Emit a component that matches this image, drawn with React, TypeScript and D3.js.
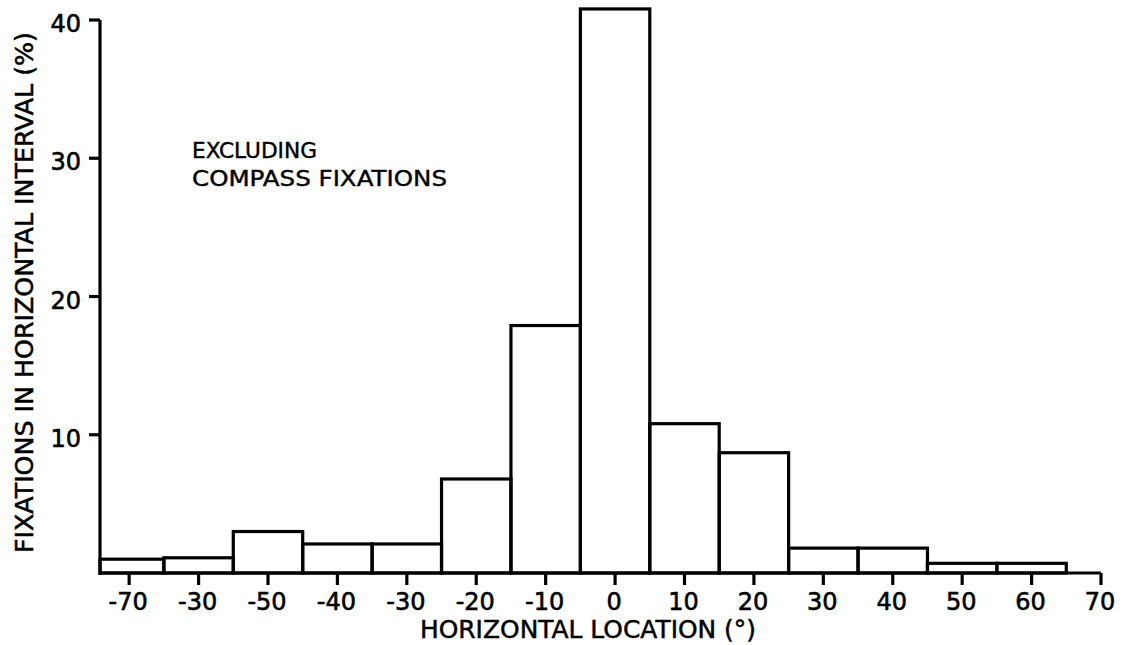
import React from "react";
import * as d3 from "d3";

const binCenters = [-70, -60, -50, -40, -30, -20, -10, 0, 10, 20, 30, 40, 50, 60];
const binValues = [1.0, 1.1, 3.0, 2.1, 2.1, 6.8, 17.9, 40.8, 10.8, 8.7, 1.8, 1.8, 0.7, 0.7];
const xTickValues = [-70, -60, -50, -40, -30, -20, -10, 0, 10, 20, 30, 40, 50, 60, 70];
const xTickLabels = ["-70", "-30", "-50", "-40", "-30", "-20", "-10", "0", "10", "20", "30", "40", "50", "60", "70"];
const yTickValues = [10, 20, 30, 40];
const binWidth = 10;

const W = 1123;
const H = 645;
const FONT = "'DejaVu Sans', sans-serif";

export default function App() {
  const x = d3.scaleLinear().domain([-74.2, 70]).range([100, 1101]);
  const y = d3.scaleLinear().domain([0, 40]).range([573, 20]);
  const xMin = x.domain()[0];

  return (
    <svg
      width={W}
      height={H}
      viewBox={`0 0 ${W} ${H}`}
      style={{ position: "absolute", left: 0, top: 0, background: "#fff" }}
    >
      <rect width={W} height={H} fill="#fff" />
      {/* bars */}
      <g fill="none" stroke="#000" strokeWidth={3.2} strokeLinejoin="miter">
        {binCenters.map((c, i) => {
          const x0 = x(Math.max(c - binWidth / 2, xMin));
          const x1 = x(c + binWidth / 2);
          const yt = y(binValues[i]);
          return <rect key={c} x={x0} y={yt} width={x1 - x0} height={y(0) - yt} />;
        })}
      </g>
      {/* axes */}
      <g stroke="#000" strokeWidth={3.2} fill="none">
        <line x1={x(xMin)} x2={x(xMin)} y1={y(40)} y2={y(0) + 2} />
        <line x1={x(xMin)} x2={x(70)} y1={y(0)} y2={y(0)} />
        {yTickValues.map((v) => (
          <line key={v} x1={x(xMin) - 11} x2={x(xMin)} y1={y(v)} y2={y(v)} />
        ))}
        {xTickValues.map((v) => (
          <line key={v} x1={x(v)} x2={x(v)} y1={y(0)} y2={y(0) + 12} />
        ))}
      </g>
      {/* y tick labels */}
      <g fontFamily={FONT} fontSize={24} fill="#000" stroke="#000" strokeWidth={0.6} textAnchor="end">
        {yTickValues.map((v) => (
          <text key={v} x={x(xMin) - 19} y={y(v) + 12}>
            {v}
          </text>
        ))}
      </g>
      {/* x tick labels */}
      <g fontFamily={FONT} fontSize={24} fill="#000" stroke="#000" strokeWidth={0.6} textAnchor="middle">
        {xTickValues.map((v, i) => (
          <text key={v} x={x(v) - 1} y={610}>
            {xTickLabels[i]}
          </text>
        ))}
      </g>
      {/* axis titles */}
      <text
        x={420}
        y={638}
        fontFamily={FONT}
        fontSize={25}
        textLength={336}
        lengthAdjust="spacingAndGlyphs"
        fill="#000"
        stroke="#000"
        strokeWidth={0.5}
      >
        HORIZONTAL LOCATION (°)
      </text>
      <text
        transform="translate(33,553) rotate(-90)"
        x={0}
        y={0}
        fontFamily={FONT}
        fontSize={24}
        textLength={521}
        lengthAdjust="spacingAndGlyphs"
        fill="#000"
        stroke="#000"
        strokeWidth={0.5}
      >
        FIXATIONS IN HORIZONTAL INTERVAL (%)
      </text>
      {/* annotation */}
      <text x={192} y={158} fontFamily={FONT} fontSize={21} fill="#000" stroke="#000" strokeWidth={0.4} textLength={125} lengthAdjust="spacingAndGlyphs">
        EXCLUDING
      </text>
      <text x={192} y={186} fontFamily={FONT} fontSize={21} fill="#000" stroke="#000" strokeWidth={0.4} textLength={255} lengthAdjust="spacingAndGlyphs">
        COMPASS FIXATIONS
      </text>
    </svg>
  );
}
